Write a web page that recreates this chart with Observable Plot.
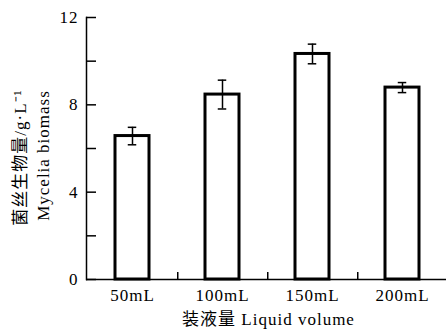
<!DOCTYPE html>
<html><head><meta charset="utf-8">
<script src="https://cdn.jsdelivr.net/npm/d3@7"></script>
<script src="https://cdn.jsdelivr.net/npm/@observablehq/plot@0.6"></script>
<style>body{margin:0;background:#fff}</style>
</head><body><div id="chart"></div>
<script>
const categories = ["50mL", "100mL", "150mL", "200mL"];
const biomass = [6.57, 8.47, 10.33, 8.79];
const errors = [0.40, 0.66, 0.45, 0.23];
const yTicks = [0, 2, 4, 6, 8, 10, 12];
const yLabels = [0, 4, 8, 12];
const xTitle = "装液量 Liquid volume";
const yTitle1 = "菌丝生物量/g·L⁻¹";
const yTitle2 = "Mycelia biomass";

const data = categories.map((c, i) => ({c, v: biomass[i], e: errors[i]}));
const font = "'Liberation Serif', 'Noto Sans CJK SC', serif";

const chart = Plot.plot({
  width: 446, height: 330,
  marginLeft: 86, marginRight: 0, marginTop: 17, marginBottom: 51,
  style: {fontFamily: font, fontSize: "17px", color: "#000", background: "#fff", letterSpacing: "1px"},
  x: {domain: categories, range: [86, 448], padding: 0, axis: null},
  y: {domain: [0, 12], axis: null},
  marks: [
    Plot.frame({anchor: "left", strokeWidth: 1.5}),
    Plot.ruleY([0], {strokeWidth: 1.5}),
    Plot.tickY(yTicks, {y: d => d, insetRight: 350, strokeWidth: 1.5}),
    Plot.axisY({ticks: yLabels, tickSize: 0, tickPadding: 8, fontSize: 17, label: null}),
    Plot.axisX({tickSize: 0, tickPadding: 9, fontSize: 17, label: null}),
    Plot.ruleX(categories.slice(0, 3), {x: d => d, dx: 45.25, y1: 0, y2: 0.32, strokeWidth: 1.5}),
    Plot.barY(data, {x: "c", y: "v", fill: "#fff", stroke: "#000", strokeWidth: 3, insetLeft: 28, insetRight: 28}),
    Plot.ruleX(data, {x: "c", y1: d => d.v - d.e, y2: d => d.v + d.e, strokeWidth: 1.5}),
    Plot.tickY(data, {x: "c", y: d => d.v - d.e, strokeWidth: 1.5, insetLeft: 40.75, insetRight: 40.75}),
    Plot.tickY(data, {x: "c", y: d => d.v + d.e, strokeWidth: 1.5, insetLeft: 40.75, insetRight: 40.75}),
    Plot.text([xTitle], {frameAnchor: "bottom", dy: 40, dx: 2, fontSize: 17, fill: "#000", textAnchor: "middle", lineAnchor: "middle"}),
    Plot.text([yTitle1], {frameAnchor: "left", rotate: -90, dx: -66, dy: 9, fontSize: 17, fill: "#000", textAnchor: "middle", lineAnchor: "middle"}),
    Plot.text([yTitle2], {frameAnchor: "left", rotate: -90, dx: -43, dy: 7, fontSize: 17, fill: "#000", textAnchor: "middle", lineAnchor: "middle"})
  ]
});
document.getElementById("chart").appendChild(chart);
</script>
</body></html>
